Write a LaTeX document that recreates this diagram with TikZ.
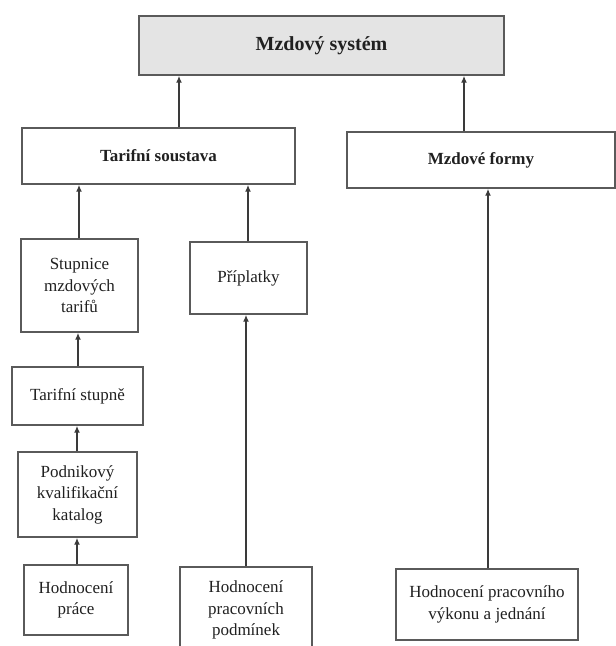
\documentclass[tikz,border=0pt]{standalone}
\usepackage{fontspec}
\setmainfont{Liberation Serif}
\usetikzlibrary{arrows.meta}
\definecolor{boxc}{HTML}{5A5A5A}
\definecolor{arrc}{HTML}{3A3A3A}
\definecolor{txt}{HTML}{202020}
\definecolor{sysfill}{HTML}{E4E4E4}
\begin{document}
\begin{tikzpicture}[x=1pt,y=-1pt,
  box/.style={draw=boxc, line width=1.4pt, align=center, inner sep=0pt, text=txt,
    font=\fontsize{17}{21.5}\selectfont},
  boldbox/.style={box, font=\fontsize{17}{21.5}\selectfont\bfseries},
  arr/.style={draw=arrc, line width=1.5pt, -{Latex[length=7pt,width=6pt]}},
]
\useasboundingbox (0,0) rectangle (616,646);
\clip (0,0) rectangle (616,646);

% nodes
\node[box, fill=sysfill, minimum width=365pt, minimum height=59pt,
  font=\fontsize{20}{24}\selectfont\bfseries] (sys) at (321.5,45.5) {Mzdový systém};
\node[boldbox, minimum width=273pt, minimum height=56pt] (tar) at (158.5,156) {Tarifní soustava};
\node[boldbox, minimum width=268pt, minimum height=56pt] (mzf) at (481,160) {Mzdové formy};
\node[box, minimum width=117pt, minimum height=93pt] (stup) at (79.5,285.5) {Stupnice\\mzdových\\tarifů};
\node[box, minimum width=117pt, minimum height=72pt] (pripl) at (248.5,278) {Příplatky};
\node[box, minimum width=131pt, minimum height=58pt] (tstup) at (77.5,396) {Tarifní stupně};
\node[box, minimum width=119pt, minimum height=85pt] (podn) at (77.5,494.5) {Podnikový\\kvalifikační\\katalog};
\node[box, minimum width=104pt, minimum height=70pt] (hpr) at (76,600) {Hodnocení\\práce};
\node[box, minimum width=132pt, minimum height=86pt] (hpp) at (246,610) {Hodnocení\\pracovních\\podmínek};
\node[box, minimum width=182pt, minimum height=71pt] (hpv) at (487,604.5) {Hodnocení pracovního\\výkonu a jednání};

% connector start points (at whole-pixel x positions)
\coordinate (c1) at ([xshift=20.5pt]tar.north);
\coordinate (c2) at ([xshift=-17pt]mzf.north);
\coordinate (c3) at ([xshift=-0.5pt]stup.north);
\coordinate (c4) at ([xshift=-0.5pt]pripl.north);
\coordinate (c5) at ([xshift=1pt]hpv.north);
\coordinate (c6) at ([xshift=0.5pt]tstup.north);
\coordinate (c7) at (hpp.north);
\coordinate (c8) at ([xshift=-0.5pt]podn.north);
\coordinate (c9) at ([xshift=1pt]hpr.north);

% connectors
\draw[arr] (c1) -- (c1 |- sys.south);
\draw[arr] (c2) -- (c2 |- sys.south);
\draw[arr] (c3) -- (c3 |- tar.south);
\draw[arr] (c4) -- (c4 |- tar.south);
\draw[arr] (c5) -- (c5 |- mzf.south);
\draw[arr] (c6) -- (c6 |- stup.south);
\draw[arr] (c7) -- (c7 |- pripl.south);
\draw[arr] (c8) -- (c8 |- tstup.south);
\draw[arr] (c9) -- (c9 |- podn.south);
\end{tikzpicture}
\end{document}
